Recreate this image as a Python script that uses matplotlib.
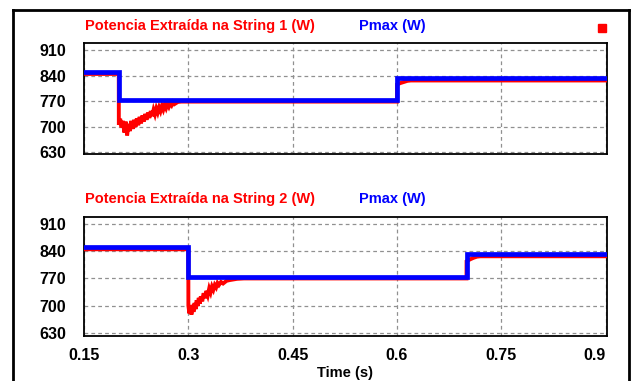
import matplotlib
matplotlib.use('Agg')
from matplotlib import pyplot as plt
from matplotlib.lines import Line2D

plt.rcParams['font.family'] = ['Liberation Sans', 'DejaVu Sans']
plt.rcParams['font.weight'] = 'bold'

# String 1: Pmax steps and extracted power (readings)
t_pmax1 = [0.15, 0.2, 0.2, 0.6, 0.6, 0.902]
p_pmax1 = [851, 851, 774, 774, 834, 834]

t_str1 = [0.15, 0.2, 0.2001, 0.202, 0.204, 0.206, 0.208, 0.210, 0.212, 0.214,
          0.216, 0.218, 0.220, 0.222, 0.224, 0.226, 0.228, 0.230, 0.232, 0.234,
          0.236, 0.238, 0.240, 0.242, 0.244, 0.246, 0.248, 0.250, 0.252, 0.254,
          0.256, 0.258, 0.260, 0.262, 0.264, 0.266, 0.268, 0.270, 0.272, 0.274,
          0.276, 0.278, 0.280, 0.285, 0.290, 0.300, 0.600, 0.6001, 0.605, 0.610,
          0.615, 0.620, 0.902]
p_str1 = [845, 845, 705, 722, 698, 716, 684, 714, 676, 708,
          688, 716, 694, 719, 699, 723, 704, 727, 709, 731,
          714, 735, 719, 739, 724, 743, 729, 746, 734, 750,
          739, 753, 743, 757, 747, 760, 751, 763, 755, 765,
          759, 767, 762, 768, 769, 769, 769, 816, 820, 823,
          826, 827, 827]

# String 2
t_pmax2 = [0.15, 0.3, 0.3, 0.7, 0.7, 0.902]
p_pmax2 = [850, 850, 774, 774, 832, 832]

t_str2 = [0.15, 0.3, 0.3001, 0.3015, 0.303, 0.3045, 0.306, 0.3075, 0.309, 0.3105,
          0.312, 0.3135, 0.315, 0.3165, 0.318, 0.320, 0.322, 0.324, 0.326, 0.328,
          0.330, 0.332, 0.334, 0.336, 0.338, 0.340, 0.342, 0.344, 0.347, 0.350,
          0.355, 0.360, 0.370, 0.380, 0.700, 0.7001, 0.705, 0.710, 0.715, 0.720,
          0.902]
p_str2 = [845, 845, 700, 680, 697, 677, 702, 684, 707, 691,
          714, 699, 720, 705, 724, 711, 732, 719, 738, 727,
          744, 734, 749, 741, 753, 747, 758, 753, 761, 757,
          764, 766, 769, 770, 770, 814, 819, 823, 826, 827,
          827]

xticks = [0.15, 0.3, 0.45, 0.6, 0.75, 0.9]
xtick_labels = ['0.15', '0.3', '0.45', '0.6', '0.75', '0.9']
yticks = [630, 700, 770, 840, 910]

red = '#ff0000'
blue = '#0000ff'

fig = plt.figure(figsize=(6.39, 3.81), dpi=100)
ax1 = fig.add_axes([84 / 639, 1 - 154 / 381, 523 / 639, 111 / 381])
ax2 = fig.add_axes([84 / 639, 1 - 336 / 381, 523 / 639, 119 / 381])

panels = [
    (ax1, t_str1, p_str1, t_pmax1, p_pmax1, 'Potencia Extraída na String 1 (W)', (625, 930)),
    (ax2, t_str2, p_str2, t_pmax2, p_pmax2, 'Potencia Extraída na String 2 (W)', (622, 928)),
]
for ax, ts, ps, tp, pp, title, ylim in panels:
    ax.plot(ts, ps, color=red, lw=2.8, solid_joinstyle='miter', zorder=3)
    ax.plot(tp, pp, color=blue, lw=3.4, solid_joinstyle='miter', zorder=4)
    ax.set_xlim(0.15, 0.902)
    ax.set_ylim(*ylim)
    ax.set_xticks(xticks)
    ax.set_yticks(yticks)
    ax.grid(True, color='#909090', ls=(0, (3, 2.5)), lw=0.9)
    ax.tick_params(length=0, labelsize=11.5, pad=13)
    for sp in ax.spines.values():
        sp.set_linewidth(1.3)
    ax.text(0.222, 1.155, title, transform=ax.transAxes, color=red,
            fontsize=10.5, fontweight='bold', ha='center', va='center')
    ax.text(0.589, 1.155, 'Pmax (W)', transform=ax.transAxes, color=blue,
            fontsize=10.5, fontweight='bold', ha='center', va='center')

ax1.set_xticklabels([])
ax2.set_xticklabels(xtick_labels)
ax2.tick_params(axis='x', pad=9)
ax2.get_xticklabels()[-1].set_ha('right')
ax2.get_xticklabels()[-1].set_x(0.9)

# red marker at the top right
ax1.plot([0.990], [1.135], marker='s', color=red, ms=6, transform=ax1.transAxes,
         clip_on=False)

fig.text(345 / 639, 1 - 373 / 381, 'Time (s)', fontsize=10.5, fontweight='bold',
         ha='center', va='center')

# outer frame
x0, x1, ytop = 13 / 639, 629 / 639, 1 - 10 / 381
for xs, ys in [([x0, x0], [-0.1, ytop]), ([x0, x1], [ytop, ytop]), ([x1, x1], [ytop, -0.1])]:
    fig.add_artist(Line2D(xs, ys, color='black', lw=2, transform=fig.transFigure))

fig.savefig('out.png', dpi=100)
